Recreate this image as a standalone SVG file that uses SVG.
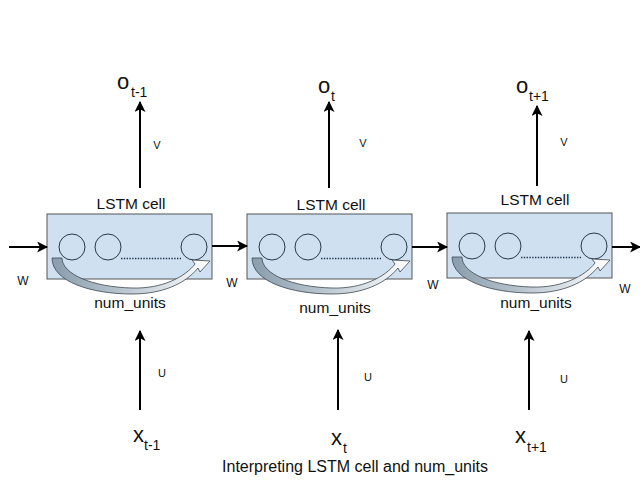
<svg xmlns="http://www.w3.org/2000/svg" xmlns:xlink="http://www.w3.org/1999/xlink" width="640" height="480" viewBox="0 0 640 480">
<style>
text{font-family:"Liberation Sans",Arial,sans-serif;fill:#111}
.box{fill:#cfe0f1;stroke:#555;stroke-width:1}
.unit{fill:none;stroke:#2b3a4a;stroke-width:1}
.dots{stroke:#1f3550;stroke-width:1.6;stroke-dasharray:1.4 1.4}
.lbl{font-size:15.5px;text-anchor:middle}
.edge{stroke:#000;stroke-width:2;fill:none;marker-end:url(#ah)}
.w{font-size:12px;text-anchor:middle}
.sm{font-size:11px;text-anchor:middle}
.big{font-size:22px}
.sub{font-size:14px}
.cap{font-size:16px;text-anchor:middle}
</style>
<defs>
<marker id="ah" viewBox="0 0 10 10" refX="9" refY="5" markerWidth="5.5" markerHeight="5.5" orient="auto" markerUnits="strokeWidth">
<path d="M0,0 L10,5 L0,10 L2.5,5 Z" fill="#000"/>
</marker>
<linearGradient id="cg" x1="0" y1="0" x2="1" y2="0">
<stop offset="0" stop-color="#8a9dac"/>
<stop offset="0.45" stop-color="#b9c6d0"/>
<stop offset="1" stop-color="#ffffff"/>
</linearGradient>
<g id="cell">
<rect class="box" x="0" y="0" width="165" height="65"/>
<circle class="unit" cx="25" cy="33" r="13"/>
<circle class="unit" cx="61" cy="33" r="13"/>
<circle class="unit" cx="147" cy="33" r="13"/>
<line class="dots" x1="74" y1="44.5" x2="134" y2="44.5"/>
<path d="M5,44 L15,44 C15,60 45,73 85,74 C115,75 138,63 148,50 L145,46 L163,47 L153,58 L151,54 C138,70 115,80 85,80 C45,80 5,68 5,44 Z" fill="url(#cg)" stroke="#3d4650" stroke-width="0.8"/>
</g>
</defs>

<g id="cell1">
<use xlink:href="#cell" x="47" y="214"/>
<text class="lbl" x="131" y="209">LSTM cell</text>
<text class="lbl" x="130" y="308">num_units</text>
</g>
<g id="cell2">
<use xlink:href="#cell" x="247" y="214"/>
<text class="lbl" x="331" y="210">LSTM cell</text>
<text class="lbl" x="335" y="313">num_units</text>
</g>
<g id="cell3">
<use xlink:href="#cell" x="447" y="213"/>
<text class="lbl" x="535" y="205">LSTM cell</text>
<text class="lbl" x="536" y="308">num_units</text>
</g>

<g id="o1"><text x="117" y="89"><tspan class="big">o</tspan><tspan class="sub" x="131" y="97">t-1</tspan></text></g>
<g id="o2"><text x="318" y="93"><tspan class="big">o</tspan><tspan class="sub" x="331" y="101">t</tspan></text></g>
<g id="o3"><text x="516" y="93"><tspan class="big">o</tspan><tspan class="sub" x="529" y="101">t+1</tspan></text></g>

<g id="x1"><text x="133" y="442"><tspan class="big">x</tspan><tspan class="sub" x="144" y="450">t-1</tspan></text></g>
<g id="x2"><text x="331" y="445"><tspan class="big">x</tspan><tspan class="sub" x="343" y="453">t</tspan></text></g>
<g id="x3"><text x="515" y="443"><tspan class="big">x</tspan><tspan class="sub" x="527" y="452">t+1</tspan></text></g>

<g id="connectors">
<line class="edge" x1="9" y1="247" x2="47" y2="247"/>
<line class="edge" x1="212" y1="246" x2="247" y2="246"/>
<line class="edge" x1="412" y1="247" x2="447" y2="247"/>
<line class="edge" x1="612" y1="247" x2="640" y2="247"/>
<line class="edge" x1="140" y1="188" x2="140" y2="102"/>
<line class="edge" x1="329" y1="188" x2="329" y2="102"/>
<line class="edge" x1="537" y1="186" x2="537" y2="106"/>
<line class="edge" x1="140" y1="410" x2="140" y2="331"/>
<line class="edge" x1="338" y1="410" x2="338" y2="330"/>
<line class="edge" x1="529" y1="410" x2="529" y2="331"/>
<text class="w" x="23" y="285">W</text>
<text class="w" x="232" y="287">W</text>
<text class="w" x="433" y="289">W</text>
<text class="w" x="625" y="293">W</text>
<text class="sm" x="157" y="149">V</text>
<text class="sm" x="363" y="147">V</text>
<text class="sm" x="564" y="146">V</text>
<text class="sm" x="162" y="377">U</text>
<text class="sm" x="368" y="381">U</text>
<text class="sm" x="564" y="383">U</text>
</g>

<text class="cap" x="355" y="472">Interpreting LSTM cell and num_units</text>
</svg>
